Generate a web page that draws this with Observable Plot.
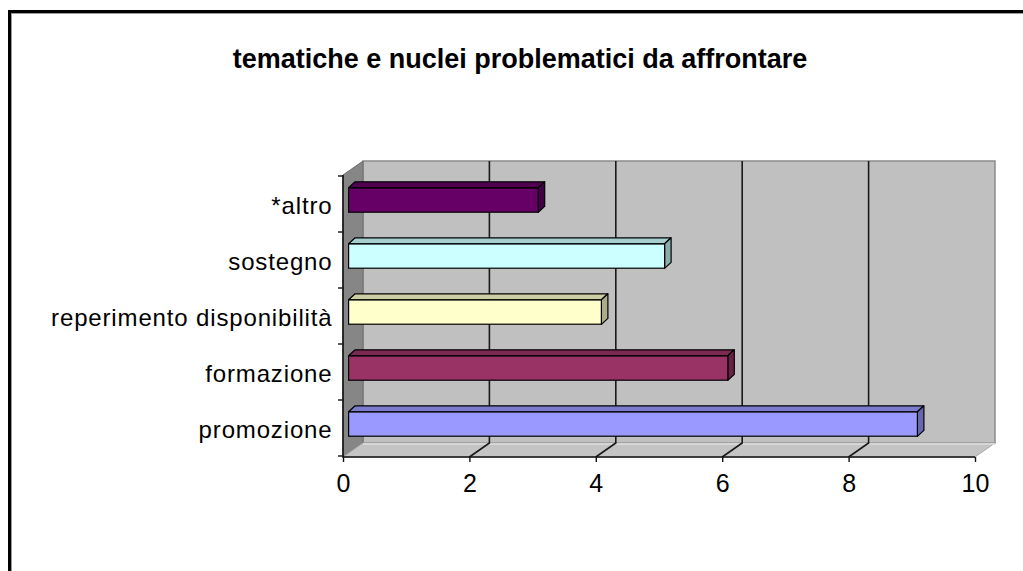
<!DOCTYPE html>
<html><head><meta charset="utf-8">
<script src="https://cdn.jsdelivr.net/npm/d3@7"></script>
<script src="https://cdn.jsdelivr.net/npm/@observablehq/plot@0.6"></script>
<style>
body{margin:0;background:#fff;}
#wrap{position:relative;width:1023px;height:571px;overflow:hidden;background:#fff;}
#frame{position:absolute;left:8px;top:10px;width:1200px;height:800px;border-left:3px solid #000;border-top:3px solid #000;box-shadow:inset 1px 1px 0 #9a9a9a;}
#title{position:absolute;left:0;top:44px;width:1040px;text-align:center;font:bold 27px "Liberation Sans",Arial,sans-serif;color:#000;}
#chart{position:absolute;left:0;top:0;}
#chart svg g[aria-label="y-axis tick label"] text{letter-spacing:0.85px;}
</style></head><body>
<div id="wrap"><div id="frame"></div><div id="title"></div><div id="chart"></div></div>
<script>
const title = "tematiche e nuclei problematici da affrontare";
const categories = ["*altro", "sostegno", "reperimento disponibilità", "formazione", "promozione"];
const values = [3, 5, 4, 6, 9];
const colors = ["#660066", "#CCFFFF", "#FFFFCC", "#993366", "#9999FF"];
const xTicks = [0, 2, 4, 6, 8, 10];

const data = categories.map((c, i) => ({category: c, value: values[i]}));

// 3D geometry (pixels)
const DX = 20, DY = -14;          // depth of the box
const OFFX = 5.6, OFFY = -3.9;    // bar front face depth offset
const BDX = 6.5, BDY = -6;        // bar depth
const BAR_H = 24.6;               // bar thickness

document.getElementById("title").textContent = title;

const shade = (c, k) => d3.color(c).darker(k).formatHex();

function walls(index, scales, values, dims) {
  const {x, y} = scales;
  const x0 = x(xTicks[0]), x1 = x(xTicks[xTicks.length - 1]);
  const yTop = dims.marginTop, yBot = dims.height - dims.marginBottom;
  const g = d3.create("svg:g");
  g.append("path").attr("d", `M${x0+DX},${yTop+DY}H${x1+DX}V${yBot+DY}H${x0+DX}Z`)
    .attr("fill", "#c0c0c0").attr("stroke", "#8c8c8c").attr("stroke-width", 1.5);
  g.append("path").attr("d", `M${x0},${yTop}L${x0+DX},${yTop+DY}V${yBot+DY}L${x0},${yBot}Z`)
    .attr("fill", "#868686").attr("stroke", "#6e6e6e");
  g.append("path").attr("d", `M${x0},${yBot}H${x1}L${x1+DX},${yBot+DY}H${x0+DX}Z`)
    .attr("fill", "#c4c4c4").attr("stroke", "#a8a8a8");
  g.append("path").attr("d", `M${x0+DX},${yBot+DY+1}H${x1+DX}`).attr("stroke", "#dedede").attr("stroke-width", 1.5);
  for (const t of xTicks.slice(1, -1)) {
    g.append("path").attr("d", `M${x(t)},${yBot}L${x(t)+DX},${yBot+DY}V${yTop+DY}`)
      .attr("fill", "none").attr("stroke", "#1a1a1a").attr("stroke-width", 1.6);
  }
  g.append("path").attr("d", `M${x0},${yTop}V${yBot}H${x1}`)
    .attr("fill", "none").attr("stroke", "#111").attr("stroke-width", 1.6);
  const step = y(categories[1]) - y(categories[0]);
  for (let i = 0; i <= categories.length; i++) {
    const yy = y(categories[0]) + i * step;
    g.append("path").attr("d", `M${x0-5},${yy}H${x0}`).attr("stroke", "#111").attr("stroke-width", 1.4);
  }
  return g.node();
}

function barFaces(index, scales, values, dims) {
  const {x, y, color} = scales;
  const step = y(categories[1]) - y(categories[0]);
  const g = d3.create("svg:g");
  for (const d of data) {
    const xl = x(0) + OFFX, xr = x(d.value) + OFFX;
    const yt = y(d.category) + (step - BAR_H) / 2 + OFFY, yb = yt + BAR_H;
    const c = color(d.category);
    g.append("path").attr("d", `M${xl},${yt}L${xl+BDX},${yt+BDY}H${xr+BDX}L${xr},${yt}Z`)
      .attr("fill", shade(c, 0.6)).attr("stroke", "#000").attr("stroke-width", 1.2).attr("stroke-linejoin", "round");
    g.append("path").attr("d", `M${xr},${yt}L${xr+BDX},${yt+BDY}V${yb+BDY}L${xr},${yb}Z`)
      .attr("fill", shade(c, 1.1)).attr("stroke", "#000").attr("stroke-width", 1.2).attr("stroke-linejoin", "round");
  }
  return g.node();
}

const step0 = 56.4;
const plot = Plot.plot({
  width: 1023,
  height: 571,
  marginLeft: 343,
  marginRight: 48,
  marginTop: 175,
  marginBottom: 114,
  style: {fontFamily: '"Liberation Sans", Arial, sans-serif', background: "transparent", color: "#000"},
  x: {domain: [0, 10]},
  y: {domain: categories, padding: 0},
  color: {domain: categories, range: colors},
  marks: [
    walls,
    barFaces,
    Plot.barX(data, {
      x: "value", y: "category", fill: "category",
      stroke: "#000", strokeWidth: 1.2,
      insetTop: (step0 - BAR_H) / 2, insetBottom: (step0 - BAR_H) / 2,
      dx: OFFX, dy: OFFY
    }),
    Plot.axisX({ticks: xTicks, tickSize: 5, tickPadding: 12, fontSize: 25, stroke: "#111", strokeWidth: 1.4, label: null}),
    Plot.axisY({tickSize: 0, tickPadding: 11, fontSize: 24, dy: 2, label: null})
  ]
});
document.getElementById("chart").appendChild(plot);
</script>
</body></html>
